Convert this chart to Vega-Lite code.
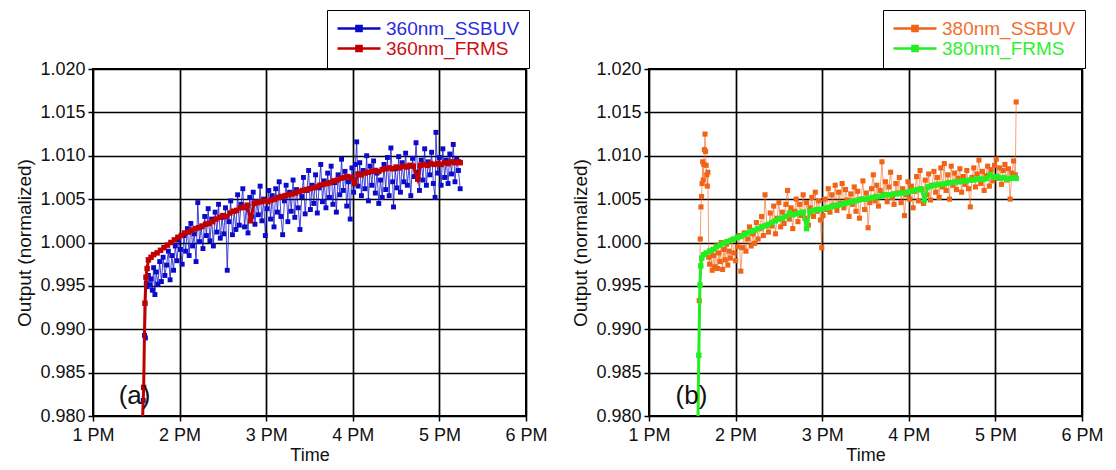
{
"$schema": "https://vega.github.io/schema/vega-lite/v6.json",
"background": "white",
"padding": {"left": 14, "top": 8, "right": 2, "bottom": 2},
"spacing": 21,
"config": {
  "font": "Liberation Sans",
  "view": {"stroke": "#000", "strokeWidth": 2},
  "axis": {"labelFont": "Liberation Sans", "titleFont": "Liberation Sans", "labelFontSize": 18, "titleFontSize": 18, "titleFontWeight": "normal", "labelColor": "#111", "titleColor": "#111", "domain": false, "grid": true, "gridColor": "#000", "gridWidth": 1.7, "gridOpacity": 1, "tickColor": "#000", "tickSize": 5, "tickWidth": 1.5, "labelPadding": 3, "labelFlush": false, "labelOverlap": false},
  "axisX": {"titlePadding": 2, "labelPadding": 5},
  "axisY": {"titlePadding": 5, "titleFontSize": 19}
},
"datasets": {
  "la": [{"t": 13.48, "v": 0.9823, "lab": "(a)"}],
  "lb": [{"t": 13.49, "v": 0.9823, "lab": "(b)"}],
  "a": [
{"t":13.565,"v":0.9790,"s":"360nm_SSBUV"},{"t":13.580,"v":0.9818,"s":"360nm_SSBUV"},{"t":13.595,"v":0.9893,"s":"360nm_SSBUV"},{"t":13.605,"v":0.9890,"s":"360nm_SSBUV"},{"t":13.615,"v":0.9953,"s":"360nm_SSBUV"},{"t":13.625,"v":0.9949,"s":"360nm_SSBUV"},{"t":13.640,"v":0.9962,"s":"360nm_SSBUV"},{"t":13.655,"v":0.9951,"s":"360nm_SSBUV"},{"t":13.670,"v":0.9958,"s":"360nm_SSBUV"},{"t":13.685,"v":0.9945,"s":"360nm_SSBUV"},{"t":13.700,"v":0.9971,"s":"360nm_SSBUV"},{"t":13.715,"v":0.9940,"s":"360nm_SSBUV"},{"t":13.730,"v":0.9966,"s":"360nm_SSBUV"},{"t":13.750,"v":0.9952,"s":"360nm_SSBUV"},{"t":13.770,"v":0.9978,"s":"360nm_SSBUV"},{"t":13.790,"v":0.9955,"s":"360nm_SSBUV"},{"t":13.810,"v":0.9983,"s":"360nm_SSBUV"},{"t":13.830,"v":0.9962,"s":"360nm_SSBUV"},{"t":13.850,"v":0.9974,"s":"360nm_SSBUV"},{"t":13.870,"v":0.9990,"s":"360nm_SSBUV"},{"t":13.890,"v":0.9957,"s":"360nm_SSBUV"},{"t":13.910,"v":0.9985,"s":"360nm_SSBUV"},{"t":13.930,"v":0.9968,"s":"360nm_SSBUV"},{"t":13.950,"v":0.9996,"s":"360nm_SSBUV"},{"t":13.970,"v":0.9979,"s":"360nm_SSBUV"},{"t":13.990,"v":1.0003,"s":"360nm_SSBUV"},{"t":14.010,"v":0.9992,"s":"360nm_SSBUV"},{"t":14.030,"v":0.9975,"s":"360nm_SSBUV"},{"t":14.050,"v":1.0008,"s":"360nm_SSBUV"},{"t":14.070,"v":0.9990,"s":"360nm_SSBUV"},{"t":14.090,"v":1.0016,"s":"360nm_SSBUV"},{"t":14.110,"v":0.9985,"s":"360nm_SSBUV"},{"t":14.130,"v":1.0022,"s":"360nm_SSBUV"},{"t":14.150,"v":0.9996,"s":"360nm_SSBUV"},{"t":14.170,"v":1.0010,"s":"360nm_SSBUV"},{"t":14.190,"v":0.9978,"s":"360nm_SSBUV"},{"t":14.210,"v":1.0046,"s":"360nm_SSBUV"},{"t":14.230,"v":1.0001,"s":"360nm_SSBUV"},{"t":14.250,"v":1.0018,"s":"360nm_SSBUV"},{"t":14.270,"v":0.9993,"s":"360nm_SSBUV"},{"t":14.290,"v":1.0030,"s":"360nm_SSBUV"},{"t":14.310,"v":1.0008,"s":"360nm_SSBUV"},{"t":14.330,"v":1.0039,"s":"360nm_SSBUV"},{"t":14.350,"v":1.0002,"s":"360nm_SSBUV"},{"t":14.370,"v":1.0027,"s":"360nm_SSBUV"},{"t":14.390,"v":0.9996,"s":"360nm_SSBUV"},{"t":14.410,"v":1.0035,"s":"360nm_SSBUV"},{"t":14.430,"v":1.0012,"s":"360nm_SSBUV"},{"t":14.450,"v":1.0044,"s":"360nm_SSBUV"},{"t":14.470,"v":1.0005,"s":"360nm_SSBUV"},{"t":14.490,"v":1.0029,"s":"360nm_SSBUV"},{"t":14.510,"v":1.0010,"s":"360nm_SSBUV"},{"t":14.530,"v":1.0040,"s":"360nm_SSBUV"},{"t":14.550,"v":0.9968,"s":"360nm_SSBUV"},{"t":14.570,"v":1.0024,"s":"360nm_SSBUV"},{"t":14.590,"v":1.0048,"s":"360nm_SSBUV"},{"t":14.610,"v":1.0009,"s":"360nm_SSBUV"},{"t":14.630,"v":1.0036,"s":"360nm_SSBUV"},{"t":14.650,"v":1.0015,"s":"360nm_SSBUV"},{"t":14.670,"v":1.0055,"s":"360nm_SSBUV"},{"t":14.690,"v":1.0020,"s":"360nm_SSBUV"},{"t":14.710,"v":1.0044,"s":"360nm_SSBUV"},{"t":14.730,"v":1.0062,"s":"360nm_SSBUV"},{"t":14.750,"v":1.0018,"s":"360nm_SSBUV"},{"t":14.770,"v":1.0040,"s":"360nm_SSBUV"},{"t":14.790,"v":1.0011,"s":"360nm_SSBUV"},{"t":14.810,"v":1.0052,"s":"360nm_SSBUV"},{"t":14.830,"v":1.0030,"s":"360nm_SSBUV"},{"t":14.850,"v":1.0058,"s":"360nm_SSBUV"},{"t":14.870,"v":1.0021,"s":"360nm_SSBUV"},{"t":14.890,"v":1.0047,"s":"360nm_SSBUV"},{"t":14.910,"v":1.0032,"s":"360nm_SSBUV"},{"t":14.930,"v":1.0065,"s":"360nm_SSBUV"},{"t":14.950,"v":1.0025,"s":"360nm_SSBUV"},{"t":14.970,"v":1.0050,"s":"360nm_SSBUV"},{"t":14.990,"v":1.0008,"s":"360nm_SSBUV"},{"t":15.010,"v":1.0039,"s":"360nm_SSBUV"},{"t":15.030,"v":1.0060,"s":"360nm_SSBUV"},{"t":15.050,"v":1.0027,"s":"360nm_SSBUV"},{"t":15.070,"v":1.0054,"s":"360nm_SSBUV"},{"t":15.090,"v":1.0018,"s":"360nm_SSBUV"},{"t":15.110,"v":1.0062,"s":"360nm_SSBUV"},{"t":15.130,"v":1.0035,"s":"360nm_SSBUV"},{"t":15.150,"v":1.0070,"s":"360nm_SSBUV"},{"t":15.170,"v":1.0030,"s":"360nm_SSBUV"},{"t":15.190,"v":1.0009,"s":"360nm_SSBUV"},{"t":15.210,"v":1.0048,"s":"360nm_SSBUV"},{"t":15.230,"v":1.0066,"s":"360nm_SSBUV"},{"t":15.250,"v":1.0024,"s":"360nm_SSBUV"},{"t":15.270,"v":1.0058,"s":"360nm_SSBUV"},{"t":15.290,"v":1.0036,"s":"360nm_SSBUV"},{"t":15.310,"v":1.0072,"s":"360nm_SSBUV"},{"t":15.330,"v":1.0029,"s":"360nm_SSBUV"},{"t":15.350,"v":1.0061,"s":"360nm_SSBUV"},{"t":15.370,"v":1.0040,"s":"360nm_SSBUV"},{"t":15.390,"v":1.0015,"s":"360nm_SSBUV"},{"t":15.410,"v":1.0053,"s":"360nm_SSBUV"},{"t":15.430,"v":1.0075,"s":"360nm_SSBUV"},{"t":15.450,"v":1.0033,"s":"360nm_SSBUV"},{"t":15.470,"v":1.0060,"s":"360nm_SSBUV"},{"t":15.490,"v":1.0083,"s":"360nm_SSBUV"},{"t":15.510,"v":1.0038,"s":"360nm_SSBUV"},{"t":15.530,"v":1.0066,"s":"360nm_SSBUV"},{"t":15.550,"v":1.0045,"s":"360nm_SSBUV"},{"t":15.570,"v":1.0078,"s":"360nm_SSBUV"},{"t":15.590,"v":1.0034,"s":"360nm_SSBUV"},{"t":15.610,"v":1.0063,"s":"360nm_SSBUV"},{"t":15.630,"v":1.0090,"s":"360nm_SSBUV"},{"t":15.650,"v":1.0047,"s":"360nm_SSBUV"},{"t":15.670,"v":1.0071,"s":"360nm_SSBUV"},{"t":15.690,"v":1.0040,"s":"360nm_SSBUV"},{"t":15.710,"v":1.0080,"s":"360nm_SSBUV"},{"t":15.730,"v":1.0052,"s":"360nm_SSBUV"},{"t":15.750,"v":1.0088,"s":"360nm_SSBUV"},{"t":15.770,"v":1.0044,"s":"360nm_SSBUV"},{"t":15.790,"v":1.0069,"s":"360nm_SSBUV"},{"t":15.810,"v":1.0035,"s":"360nm_SSBUV"},{"t":15.830,"v":1.0078,"s":"360nm_SSBUV"},{"t":15.850,"v":1.0055,"s":"360nm_SSBUV"},{"t":15.870,"v":1.0096,"s":"360nm_SSBUV"},{"t":15.890,"v":1.0060,"s":"360nm_SSBUV"},{"t":15.910,"v":1.0082,"s":"360nm_SSBUV"},{"t":15.930,"v":1.0042,"s":"360nm_SSBUV"},{"t":15.950,"v":1.0070,"s":"360nm_SSBUV"},{"t":15.970,"v":1.0027,"s":"360nm_SSBUV"},{"t":15.990,"v":1.0086,"s":"360nm_SSBUV"},{"t":16.010,"v":1.0058,"s":"360nm_SSBUV"},{"t":16.030,"v":1.0090,"s":"360nm_SSBUV"},{"t":16.045,"v":1.0116,"s":"360nm_SSBUV"},{"t":16.060,"v":1.0065,"s":"360nm_SSBUV"},{"t":16.080,"v":1.0092,"s":"360nm_SSBUV"},{"t":16.100,"v":1.0054,"s":"360nm_SSBUV"},{"t":16.120,"v":1.0083,"s":"360nm_SSBUV"},{"t":16.140,"v":1.0062,"s":"360nm_SSBUV"},{"t":16.160,"v":1.0100,"s":"360nm_SSBUV"},{"t":16.180,"v":1.0048,"s":"360nm_SSBUV"},{"t":16.200,"v":1.0088,"s":"360nm_SSBUV"},{"t":16.220,"v":1.0066,"s":"360nm_SSBUV"},{"t":16.240,"v":1.0094,"s":"360nm_SSBUV"},{"t":16.260,"v":1.0057,"s":"360nm_SSBUV"},{"t":16.280,"v":1.0080,"s":"360nm_SSBUV"},{"t":16.300,"v":1.0045,"s":"360nm_SSBUV"},{"t":16.320,"v":1.0072,"s":"360nm_SSBUV"},{"t":16.340,"v":1.0052,"s":"360nm_SSBUV"},{"t":16.360,"v":1.0090,"s":"360nm_SSBUV"},{"t":16.380,"v":1.0061,"s":"360nm_SSBUV"},{"t":16.400,"v":1.0098,"s":"360nm_SSBUV"},{"t":16.420,"v":1.0054,"s":"360nm_SSBUV"},{"t":16.440,"v":1.0109,"s":"360nm_SSBUV"},{"t":16.460,"v":1.0070,"s":"360nm_SSBUV"},{"t":16.470,"v":1.0041,"s":"360nm_SSBUV"},{"t":16.490,"v":1.0085,"s":"360nm_SSBUV"},{"t":16.510,"v":1.0063,"s":"360nm_SSBUV"},{"t":16.530,"v":1.0099,"s":"360nm_SSBUV"},{"t":16.550,"v":1.0058,"s":"360nm_SSBUV"},{"t":16.570,"v":1.0092,"s":"360nm_SSBUV"},{"t":16.590,"v":1.0070,"s":"360nm_SSBUV"},{"t":16.610,"v":1.0103,"s":"360nm_SSBUV"},{"t":16.630,"v":1.0066,"s":"360nm_SSBUV"},{"t":16.650,"v":1.0088,"s":"360nm_SSBUV"},{"t":16.670,"v":1.0054,"s":"360nm_SSBUV"},{"t":16.690,"v":1.0097,"s":"360nm_SSBUV"},{"t":16.710,"v":1.0076,"s":"360nm_SSBUV"},{"t":16.730,"v":1.0115,"s":"360nm_SSBUV"},{"t":16.750,"v":1.0081,"s":"360nm_SSBUV"},{"t":16.770,"v":1.0060,"s":"360nm_SSBUV"},{"t":16.790,"v":1.0095,"s":"360nm_SSBUV"},{"t":16.810,"v":1.0072,"s":"360nm_SSBUV"},{"t":16.830,"v":1.0108,"s":"360nm_SSBUV"},{"t":16.850,"v":1.0066,"s":"360nm_SSBUV"},{"t":16.870,"v":1.0093,"s":"360nm_SSBUV"},{"t":16.890,"v":1.0078,"s":"360nm_SSBUV"},{"t":16.910,"v":1.0104,"s":"360nm_SSBUV"},{"t":16.930,"v":1.0068,"s":"360nm_SSBUV"},{"t":16.950,"v":1.0052,"s":"360nm_SSBUV"},{"t":16.960,"v":1.0127,"s":"360nm_SSBUV"},{"t":16.980,"v":1.0080,"s":"360nm_SSBUV"},{"t":17.000,"v":1.0098,"s":"360nm_SSBUV"},{"t":17.020,"v":1.0066,"s":"360nm_SSBUV"},{"t":17.040,"v":1.0108,"s":"360nm_SSBUV"},{"t":17.060,"v":1.0075,"s":"360nm_SSBUV"},{"t":17.080,"v":1.0095,"s":"360nm_SSBUV"},{"t":17.100,"v":1.0068,"s":"360nm_SSBUV"},{"t":17.120,"v":1.0102,"s":"360nm_SSBUV"},{"t":17.140,"v":1.0079,"s":"360nm_SSBUV"},{"t":17.160,"v":1.0113,"s":"360nm_SSBUV"},{"t":17.180,"v":1.0070,"s":"360nm_SSBUV"},{"t":17.200,"v":1.0096,"s":"360nm_SSBUV"},{"t":17.220,"v":1.0083,"s":"360nm_SSBUV"},{"t":17.240,"v":1.0062,"s":"360nm_SSBUV"},
{"t":13.570,"v":0.9790,"s":"360nm_FRMS"},{"t":13.585,"v":0.9833,"s":"360nm_FRMS"},{"t":13.600,"v":0.9930,"s":"360nm_FRMS"},{"t":13.612,"v":0.9960,"s":"360nm_FRMS"},{"t":13.625,"v":0.9970,"s":"360nm_FRMS"},{"t":13.640,"v":0.9980,"s":"360nm_FRMS"},{"t":13.670,"v":0.9983,"s":"360nm_FRMS"},{"t":13.700,"v":0.9986,"s":"360nm_FRMS"},{"t":13.740,"v":0.9988,"s":"360nm_FRMS"},{"t":13.780,"v":0.9991,"s":"360nm_FRMS"},{"t":13.820,"v":0.9994,"s":"360nm_FRMS"},{"t":13.860,"v":0.9997,"s":"360nm_FRMS"},{"t":13.900,"v":1.0000,"s":"360nm_FRMS"},{"t":13.940,"v":1.0003,"s":"360nm_FRMS"},{"t":13.980,"v":1.0006,"s":"360nm_FRMS"},{"t":14.020,"v":1.0008,"s":"360nm_FRMS"},{"t":14.060,"v":1.0011,"s":"360nm_FRMS"},{"t":14.100,"v":1.0012,"s":"360nm_FRMS"},{"t":14.140,"v":1.0014,"s":"360nm_FRMS"},{"t":14.180,"v":1.0016,"s":"360nm_FRMS"},{"t":14.220,"v":1.0017,"s":"360nm_FRMS"},{"t":14.260,"v":1.0019,"s":"360nm_FRMS"},{"t":14.300,"v":1.0021,"s":"360nm_FRMS"},{"t":14.340,"v":1.0022,"s":"360nm_FRMS"},{"t":14.380,"v":1.0024,"s":"360nm_FRMS"},{"t":14.420,"v":1.0027,"s":"360nm_FRMS"},{"t":14.460,"v":1.0029,"s":"360nm_FRMS"},{"t":14.500,"v":1.0031,"s":"360nm_FRMS"},{"t":14.540,"v":1.0030,"s":"360nm_FRMS"},{"t":14.580,"v":1.0034,"s":"360nm_FRMS"},{"t":14.620,"v":1.0036,"s":"360nm_FRMS"},{"t":14.660,"v":1.0037,"s":"360nm_FRMS"},{"t":14.700,"v":1.0040,"s":"360nm_FRMS"},{"t":14.740,"v":1.0041,"s":"360nm_FRMS"},{"t":14.780,"v":1.0043,"s":"360nm_FRMS"},{"t":14.820,"v":1.0025,"s":"360nm_FRMS"},{"t":14.860,"v":1.0045,"s":"360nm_FRMS"},{"t":14.900,"v":1.0046,"s":"360nm_FRMS"},{"t":14.940,"v":1.0047,"s":"360nm_FRMS"},{"t":14.980,"v":1.0048,"s":"360nm_FRMS"},{"t":15.020,"v":1.0047,"s":"360nm_FRMS"},{"t":15.060,"v":1.0049,"s":"360nm_FRMS"},{"t":15.100,"v":1.0050,"s":"360nm_FRMS"},{"t":15.140,"v":1.0052,"s":"360nm_FRMS"},{"t":15.180,"v":1.0053,"s":"360nm_FRMS"},{"t":15.220,"v":1.0054,"s":"360nm_FRMS"},{"t":15.260,"v":1.0055,"s":"360nm_FRMS"},{"t":15.300,"v":1.0056,"s":"360nm_FRMS"},{"t":15.340,"v":1.0057,"s":"360nm_FRMS"},{"t":15.380,"v":1.0059,"s":"360nm_FRMS"},{"t":15.420,"v":1.0060,"s":"360nm_FRMS"},{"t":15.460,"v":1.0061,"s":"360nm_FRMS"},{"t":15.500,"v":1.0062,"s":"360nm_FRMS"},{"t":15.540,"v":1.0063,"s":"360nm_FRMS"},{"t":15.580,"v":1.0064,"s":"360nm_FRMS"},{"t":15.620,"v":1.0066,"s":"360nm_FRMS"},{"t":15.660,"v":1.0067,"s":"360nm_FRMS"},{"t":15.700,"v":1.0068,"s":"360nm_FRMS"},{"t":15.740,"v":1.0069,"s":"360nm_FRMS"},{"t":15.780,"v":1.0071,"s":"360nm_FRMS"},{"t":15.820,"v":1.0072,"s":"360nm_FRMS"},{"t":15.860,"v":1.0074,"s":"360nm_FRMS"},{"t":15.900,"v":1.0075,"s":"360nm_FRMS"},{"t":15.940,"v":1.0076,"s":"360nm_FRMS"},{"t":15.980,"v":1.0075,"s":"360nm_FRMS"},{"t":16.020,"v":1.0068,"s":"360nm_FRMS"},{"t":16.060,"v":1.0079,"s":"360nm_FRMS"},{"t":16.100,"v":1.0078,"s":"360nm_FRMS"},{"t":16.140,"v":1.0080,"s":"360nm_FRMS"},{"t":16.180,"v":1.0081,"s":"360nm_FRMS"},{"t":16.220,"v":1.0082,"s":"360nm_FRMS"},{"t":16.260,"v":1.0083,"s":"360nm_FRMS"},{"t":16.300,"v":1.0082,"s":"360nm_FRMS"},{"t":16.340,"v":1.0084,"s":"360nm_FRMS"},{"t":16.380,"v":1.0085,"s":"360nm_FRMS"},{"t":16.420,"v":1.0086,"s":"360nm_FRMS"},{"t":16.460,"v":1.0085,"s":"360nm_FRMS"},{"t":16.500,"v":1.0087,"s":"360nm_FRMS"},{"t":16.540,"v":1.0086,"s":"360nm_FRMS"},{"t":16.580,"v":1.0088,"s":"360nm_FRMS"},{"t":16.620,"v":1.0087,"s":"360nm_FRMS"},{"t":16.660,"v":1.0089,"s":"360nm_FRMS"},{"t":16.700,"v":1.0088,"s":"360nm_FRMS"},{"t":16.750,"v":1.0073,"s":"360nm_FRMS"},{"t":16.780,"v":1.0089,"s":"360nm_FRMS"},{"t":16.820,"v":1.0090,"s":"360nm_FRMS"},{"t":16.860,"v":1.0089,"s":"360nm_FRMS"},{"t":16.900,"v":1.0091,"s":"360nm_FRMS"},{"t":16.940,"v":1.0090,"s":"360nm_FRMS"},{"t":16.980,"v":1.0091,"s":"360nm_FRMS"},{"t":17.020,"v":1.0090,"s":"360nm_FRMS"},{"t":17.060,"v":1.0092,"s":"360nm_FRMS"},{"t":17.100,"v":1.0091,"s":"360nm_FRMS"},{"t":17.140,"v":1.0093,"s":"360nm_FRMS"},{"t":17.180,"v":1.0092,"s":"360nm_FRMS"},{"t":17.220,"v":1.0093,"s":"360nm_FRMS"},{"t":17.240,"v":1.0092,"s":"360nm_FRMS"}
  ],
  "b": [
{"t":13.560,"v":0.9790,"s":"380nm_SSBUV"},{"t":13.580,"v":0.9933,"s":"380nm_SSBUV"},{"t":13.592,"v":1.0004,"s":"380nm_SSBUV"},{"t":13.600,"v":1.0041,"s":"380nm_SSBUV"},{"t":13.607,"v":1.0053,"s":"380nm_SSBUV"},{"t":13.613,"v":1.0068,"s":"380nm_SSBUV"},{"t":13.620,"v":1.0093,"s":"380nm_SSBUV"},{"t":13.627,"v":1.0072,"s":"380nm_SSBUV"},{"t":13.633,"v":1.0090,"s":"380nm_SSBUV"},{"t":13.640,"v":1.0107,"s":"380nm_SSBUV"},{"t":13.647,"v":1.0125,"s":"380nm_SSBUV"},{"t":13.653,"v":1.0105,"s":"380nm_SSBUV"},{"t":13.660,"v":1.0089,"s":"380nm_SSBUV"},{"t":13.667,"v":1.0078,"s":"380nm_SSBUV"},{"t":13.673,"v":1.0065,"s":"380nm_SSBUV"},{"t":13.680,"v":1.0081,"s":"380nm_SSBUV"},{"t":13.690,"v":0.9983,"s":"380nm_SSBUV"},{"t":13.700,"v":0.9975,"s":"380nm_SSBUV"},{"t":13.715,"v":0.9990,"s":"380nm_SSBUV"},{"t":13.730,"v":0.9968,"s":"380nm_SSBUV"},{"t":13.745,"v":0.9985,"s":"380nm_SSBUV"},{"t":13.760,"v":0.9972,"s":"380nm_SSBUV"},{"t":13.775,"v":0.9996,"s":"380nm_SSBUV"},{"t":13.790,"v":0.9970,"s":"380nm_SSBUV"},{"t":13.805,"v":0.9988,"s":"380nm_SSBUV"},{"t":13.820,"v":0.9978,"s":"380nm_SSBUV"},{"t":13.835,"v":1.0000,"s":"380nm_SSBUV"},{"t":13.850,"v":0.9969,"s":"380nm_SSBUV"},{"t":13.865,"v":0.9992,"s":"380nm_SSBUV"},{"t":13.880,"v":0.9980,"s":"380nm_SSBUV"},{"t":13.895,"v":0.9998,"s":"380nm_SSBUV"},{"t":13.910,"v":0.9974,"s":"380nm_SSBUV"},{"t":13.925,"v":0.9990,"s":"380nm_SSBUV"},{"t":13.940,"v":0.9982,"s":"380nm_SSBUV"},{"t":13.960,"v":1.0003,"s":"380nm_SSBUV"},{"t":13.980,"v":0.9988,"s":"380nm_SSBUV"},{"t":14.000,"v":0.9979,"s":"380nm_SSBUV"},{"t":14.020,"v":0.9995,"s":"380nm_SSBUV"},{"t":14.040,"v":1.0008,"s":"380nm_SSBUV"},{"t":14.060,"v":0.9967,"s":"380nm_SSBUV"},{"t":14.080,"v":0.9994,"s":"380nm_SSBUV"},{"t":14.100,"v":1.0011,"s":"380nm_SSBUV"},{"t":14.120,"v":0.9990,"s":"380nm_SSBUV"},{"t":14.140,"v":1.0004,"s":"380nm_SSBUV"},{"t":14.160,"v":1.0018,"s":"380nm_SSBUV"},{"t":14.180,"v":0.9996,"s":"380nm_SSBUV"},{"t":14.200,"v":1.0010,"s":"380nm_SSBUV"},{"t":14.220,"v":0.9999,"s":"380nm_SSBUV"},{"t":14.240,"v":1.0023,"s":"380nm_SSBUV"},{"t":14.260,"v":1.0004,"s":"380nm_SSBUV"},{"t":14.280,"v":1.0016,"s":"380nm_SSBUV"},{"t":14.300,"v":1.0030,"s":"380nm_SSBUV"},{"t":14.320,"v":1.0008,"s":"380nm_SSBUV"},{"t":14.340,"v":1.0055,"s":"380nm_SSBUV"},{"t":14.360,"v":1.0020,"s":"380nm_SSBUV"},{"t":14.380,"v":1.0012,"s":"380nm_SSBUV"},{"t":14.400,"v":1.0034,"s":"380nm_SSBUV"},{"t":14.420,"v":1.0019,"s":"380nm_SSBUV"},{"t":14.440,"v":1.0042,"s":"380nm_SSBUV"},{"t":14.460,"v":1.0010,"s":"380nm_SSBUV"},{"t":14.480,"v":1.0028,"s":"380nm_SSBUV"},{"t":14.500,"v":1.0046,"s":"380nm_SSBUV"},{"t":14.520,"v":1.0018,"s":"380nm_SSBUV"},{"t":14.540,"v":1.0035,"s":"380nm_SSBUV"},{"t":14.560,"v":1.0022,"s":"380nm_SSBUV"},{"t":14.580,"v":1.0044,"s":"380nm_SSBUV"},{"t":14.600,"v":1.0060,"s":"380nm_SSBUV"},{"t":14.620,"v":1.0027,"s":"380nm_SSBUV"},{"t":14.640,"v":1.0040,"s":"380nm_SSBUV"},{"t":14.660,"v":1.0016,"s":"380nm_SSBUV"},{"t":14.680,"v":1.0036,"s":"380nm_SSBUV"},{"t":14.700,"v":1.0050,"s":"380nm_SSBUV"},{"t":14.720,"v":1.0024,"s":"380nm_SSBUV"},{"t":14.740,"v":1.0044,"s":"380nm_SSBUV"},{"t":14.760,"v":1.0031,"s":"380nm_SSBUV"},{"t":14.780,"v":1.0055,"s":"380nm_SSBUV"},{"t":14.800,"v":1.0028,"s":"380nm_SSBUV"},{"t":14.820,"v":1.0046,"s":"380nm_SSBUV"},{"t":14.840,"v":1.0020,"s":"380nm_SSBUV"},{"t":14.860,"v":1.0040,"s":"380nm_SSBUV"},{"t":14.880,"v":1.0052,"s":"380nm_SSBUV"},{"t":14.900,"v":1.0030,"s":"380nm_SSBUV"},{"t":14.920,"v":1.0058,"s":"380nm_SSBUV"},{"t":14.940,"v":1.0036,"s":"380nm_SSBUV"},{"t":14.960,"v":1.0048,"s":"380nm_SSBUV"},{"t":14.980,"v":1.0026,"s":"380nm_SSBUV"},{"t":14.995,"v":0.9994,"s":"380nm_SSBUV"},{"t":15.010,"v":1.0031,"s":"380nm_SSBUV"},{"t":15.030,"v":1.0050,"s":"380nm_SSBUV"},{"t":15.050,"v":1.0038,"s":"380nm_SSBUV"},{"t":15.070,"v":1.0062,"s":"380nm_SSBUV"},{"t":15.090,"v":1.0035,"s":"380nm_SSBUV"},{"t":15.110,"v":1.0055,"s":"380nm_SSBUV"},{"t":15.130,"v":1.0043,"s":"380nm_SSBUV"},{"t":15.150,"v":1.0066,"s":"380nm_SSBUV"},{"t":15.170,"v":1.0037,"s":"380nm_SSBUV"},{"t":15.190,"v":1.0058,"s":"380nm_SSBUV"},{"t":15.210,"v":1.0045,"s":"380nm_SSBUV"},{"t":15.230,"v":1.0068,"s":"380nm_SSBUV"},{"t":15.250,"v":1.0040,"s":"380nm_SSBUV"},{"t":15.270,"v":1.0061,"s":"380nm_SSBUV"},{"t":15.290,"v":1.0049,"s":"380nm_SSBUV"},{"t":15.310,"v":1.0030,"s":"380nm_SSBUV"},{"t":15.330,"v":1.0056,"s":"380nm_SSBUV"},{"t":15.350,"v":1.0044,"s":"380nm_SSBUV"},{"t":15.370,"v":1.0064,"s":"380nm_SSBUV"},{"t":15.390,"v":1.0036,"s":"380nm_SSBUV"},{"t":15.410,"v":1.0059,"s":"380nm_SSBUV"},{"t":15.430,"v":1.0028,"s":"380nm_SSBUV"},{"t":15.450,"v":1.0050,"s":"380nm_SSBUV"},{"t":15.470,"v":1.0071,"s":"380nm_SSBUV"},{"t":15.490,"v":1.0038,"s":"380nm_SSBUV"},{"t":15.510,"v":1.0057,"s":"380nm_SSBUV"},{"t":15.530,"v":1.0017,"s":"380nm_SSBUV"},{"t":15.550,"v":1.0046,"s":"380nm_SSBUV"},{"t":15.570,"v":1.0062,"s":"380nm_SSBUV"},{"t":15.590,"v":1.0078,"s":"380nm_SSBUV"},{"t":15.610,"v":1.0048,"s":"380nm_SSBUV"},{"t":15.630,"v":1.0066,"s":"380nm_SSBUV"},{"t":15.650,"v":1.0042,"s":"380nm_SSBUV"},{"t":15.670,"v":1.0060,"s":"380nm_SSBUV"},{"t":15.690,"v":1.0093,"s":"380nm_SSBUV"},{"t":15.710,"v":1.0055,"s":"380nm_SSBUV"},{"t":15.730,"v":1.0070,"s":"380nm_SSBUV"},{"t":15.750,"v":1.0047,"s":"380nm_SSBUV"},{"t":15.770,"v":1.0064,"s":"380nm_SSBUV"},{"t":15.790,"v":1.0081,"s":"380nm_SSBUV"},{"t":15.810,"v":1.0052,"s":"380nm_SSBUV"},{"t":15.830,"v":1.0044,"s":"380nm_SSBUV"},{"t":15.850,"v":1.0068,"s":"380nm_SSBUV"},{"t":15.870,"v":1.0057,"s":"380nm_SSBUV"},{"t":15.890,"v":1.0075,"s":"380nm_SSBUV"},{"t":15.910,"v":1.0046,"s":"380nm_SSBUV"},{"t":15.930,"v":1.0062,"s":"380nm_SSBUV"},{"t":15.950,"v":1.0031,"s":"380nm_SSBUV"},{"t":15.970,"v":1.0055,"s":"380nm_SSBUV"},{"t":15.990,"v":1.0070,"s":"380nm_SSBUV"},{"t":16.010,"v":1.0050,"s":"380nm_SSBUV"},{"t":16.030,"v":1.0065,"s":"380nm_SSBUV"},{"t":16.050,"v":1.0040,"s":"380nm_SSBUV"},{"t":16.070,"v":1.0059,"s":"380nm_SSBUV"},{"t":16.090,"v":1.0076,"s":"380nm_SSBUV"},{"t":16.110,"v":1.0048,"s":"380nm_SSBUV"},{"t":16.130,"v":1.0083,"s":"380nm_SSBUV"},{"t":16.150,"v":1.0061,"s":"380nm_SSBUV"},{"t":16.170,"v":1.0045,"s":"380nm_SSBUV"},{"t":16.190,"v":1.0072,"s":"380nm_SSBUV"},{"t":16.210,"v":1.0055,"s":"380nm_SSBUV"},{"t":16.230,"v":1.0079,"s":"380nm_SSBUV"},{"t":16.250,"v":1.0049,"s":"380nm_SSBUV"},{"t":16.270,"v":1.0066,"s":"380nm_SSBUV"},{"t":16.290,"v":1.0082,"s":"380nm_SSBUV"},{"t":16.310,"v":1.0058,"s":"380nm_SSBUV"},{"t":16.330,"v":1.0075,"s":"380nm_SSBUV"},{"t":16.350,"v":1.0052,"s":"380nm_SSBUV"},{"t":16.370,"v":1.0086,"s":"380nm_SSBUV"},{"t":16.390,"v":1.0064,"s":"380nm_SSBUV"},{"t":16.410,"v":1.0091,"s":"380nm_SSBUV"},{"t":16.430,"v":1.0060,"s":"380nm_SSBUV"},{"t":16.450,"v":1.0078,"s":"380nm_SSBUV"},{"t":16.470,"v":1.0050,"s":"380nm_SSBUV"},{"t":16.490,"v":1.0088,"s":"380nm_SSBUV"},{"t":16.510,"v":1.0066,"s":"380nm_SSBUV"},{"t":16.530,"v":1.0080,"s":"380nm_SSBUV"},{"t":16.550,"v":1.0061,"s":"380nm_SSBUV"},{"t":16.570,"v":1.0074,"s":"380nm_SSBUV"},{"t":16.590,"v":1.0085,"s":"380nm_SSBUV"},{"t":16.610,"v":1.0058,"s":"380nm_SSBUV"},{"t":16.630,"v":1.0076,"s":"380nm_SSBUV"},{"t":16.650,"v":1.0067,"s":"380nm_SSBUV"},{"t":16.670,"v":1.0083,"s":"380nm_SSBUV"},{"t":16.690,"v":1.0062,"s":"380nm_SSBUV"},{"t":16.710,"v":1.0041,"s":"380nm_SSBUV"},{"t":16.730,"v":1.0075,"s":"380nm_SSBUV"},{"t":16.750,"v":1.0086,"s":"380nm_SSBUV"},{"t":16.770,"v":1.0064,"s":"380nm_SSBUV"},{"t":16.790,"v":1.0079,"s":"380nm_SSBUV"},{"t":16.810,"v":1.0095,"s":"380nm_SSBUV"},{"t":16.830,"v":1.0068,"s":"380nm_SSBUV"},{"t":16.850,"v":1.0082,"s":"380nm_SSBUV"},{"t":16.870,"v":1.0060,"s":"380nm_SSBUV"},{"t":16.890,"v":1.0077,"s":"380nm_SSBUV"},{"t":16.910,"v":1.0088,"s":"380nm_SSBUV"},{"t":16.930,"v":1.0065,"s":"380nm_SSBUV"},{"t":16.950,"v":1.0084,"s":"380nm_SSBUV"},{"t":16.970,"v":1.0071,"s":"380nm_SSBUV"},{"t":16.990,"v":1.0089,"s":"380nm_SSBUV"},{"t":17.010,"v":1.0096,"s":"380nm_SSBUV"},{"t":17.030,"v":1.0074,"s":"380nm_SSBUV"},{"t":17.050,"v":1.0086,"s":"380nm_SSBUV"},{"t":17.070,"v":1.0067,"s":"380nm_SSBUV"},{"t":17.090,"v":1.0083,"s":"380nm_SSBUV"},{"t":17.110,"v":1.0090,"s":"380nm_SSBUV"},{"t":17.130,"v":1.0072,"s":"380nm_SSBUV"},{"t":17.150,"v":1.0085,"s":"380nm_SSBUV"},{"t":17.170,"v":1.0050,"s":"380nm_SSBUV"},{"t":17.190,"v":1.0080,"s":"380nm_SSBUV"},{"t":17.210,"v":1.0094,"s":"380nm_SSBUV"},{"t":17.230,"v":1.0078,"s":"380nm_SSBUV"},{"t":17.240,"v":1.0162,"s":"380nm_SSBUV"},
{"t":13.565,"v":0.9790,"s":"380nm_FRMS"},{"t":13.575,"v":0.9870,"s":"380nm_FRMS"},{"t":13.588,"v":0.9951,"s":"380nm_FRMS"},{"t":13.598,"v":0.9973,"s":"380nm_FRMS"},{"t":13.610,"v":0.9982,"s":"380nm_FRMS"},{"t":13.630,"v":0.9986,"s":"380nm_FRMS"},{"t":13.660,"v":0.9988,"s":"380nm_FRMS"},{"t":13.700,"v":0.9990,"s":"380nm_FRMS"},{"t":13.740,"v":0.9992,"s":"380nm_FRMS"},{"t":13.780,"v":0.9995,"s":"380nm_FRMS"},{"t":13.820,"v":0.9997,"s":"380nm_FRMS"},{"t":13.860,"v":0.9999,"s":"380nm_FRMS"},{"t":13.900,"v":1.0001,"s":"380nm_FRMS"},{"t":13.940,"v":1.0002,"s":"380nm_FRMS"},{"t":13.980,"v":1.0004,"s":"380nm_FRMS"},{"t":14.020,"v":1.0006,"s":"380nm_FRMS"},{"t":14.060,"v":1.0007,"s":"380nm_FRMS"},{"t":14.100,"v":1.0009,"s":"380nm_FRMS"},{"t":14.140,"v":1.0011,"s":"380nm_FRMS"},{"t":14.180,"v":1.0013,"s":"380nm_FRMS"},{"t":14.220,"v":1.0014,"s":"380nm_FRMS"},{"t":14.260,"v":1.0016,"s":"380nm_FRMS"},{"t":14.300,"v":1.0018,"s":"380nm_FRMS"},{"t":14.340,"v":1.0019,"s":"380nm_FRMS"},{"t":14.380,"v":1.0021,"s":"380nm_FRMS"},{"t":14.420,"v":1.0023,"s":"380nm_FRMS"},{"t":14.460,"v":1.0025,"s":"380nm_FRMS"},{"t":14.500,"v":1.0027,"s":"380nm_FRMS"},{"t":14.540,"v":1.0028,"s":"380nm_FRMS"},{"t":14.580,"v":1.0030,"s":"380nm_FRMS"},{"t":14.620,"v":1.0034,"s":"380nm_FRMS"},{"t":14.660,"v":1.0032,"s":"380nm_FRMS"},{"t":14.700,"v":1.0033,"s":"380nm_FRMS"},{"t":14.740,"v":1.0034,"s":"380nm_FRMS"},{"t":14.780,"v":1.0035,"s":"380nm_FRMS"},{"t":14.820,"v":1.0016,"s":"380nm_FRMS"},{"t":14.860,"v":1.0036,"s":"380nm_FRMS"},{"t":14.900,"v":1.0037,"s":"380nm_FRMS"},{"t":14.940,"v":1.0038,"s":"380nm_FRMS"},{"t":14.980,"v":1.0038,"s":"380nm_FRMS"},{"t":15.020,"v":1.0039,"s":"380nm_FRMS"},{"t":15.060,"v":1.0040,"s":"380nm_FRMS"},{"t":15.100,"v":1.0041,"s":"380nm_FRMS"},{"t":15.140,"v":1.0042,"s":"380nm_FRMS"},{"t":15.180,"v":1.0043,"s":"380nm_FRMS"},{"t":15.220,"v":1.0044,"s":"380nm_FRMS"},{"t":15.260,"v":1.0045,"s":"380nm_FRMS"},{"t":15.300,"v":1.0046,"s":"380nm_FRMS"},{"t":15.340,"v":1.0047,"s":"380nm_FRMS"},{"t":15.380,"v":1.0048,"s":"380nm_FRMS"},{"t":15.420,"v":1.0049,"s":"380nm_FRMS"},{"t":15.460,"v":1.0050,"s":"380nm_FRMS"},{"t":15.500,"v":1.0050,"s":"380nm_FRMS"},{"t":15.540,"v":1.0051,"s":"380nm_FRMS"},{"t":15.580,"v":1.0052,"s":"380nm_FRMS"},{"t":15.620,"v":1.0053,"s":"380nm_FRMS"},{"t":15.660,"v":1.0053,"s":"380nm_FRMS"},{"t":15.700,"v":1.0054,"s":"380nm_FRMS"},{"t":15.740,"v":1.0055,"s":"380nm_FRMS"},{"t":15.780,"v":1.0055,"s":"380nm_FRMS"},{"t":15.820,"v":1.0056,"s":"380nm_FRMS"},{"t":15.860,"v":1.0056,"s":"380nm_FRMS"},{"t":15.900,"v":1.0057,"s":"380nm_FRMS"},{"t":15.940,"v":1.0057,"s":"380nm_FRMS"},{"t":15.980,"v":1.0058,"s":"380nm_FRMS"},{"t":16.020,"v":1.0059,"s":"380nm_FRMS"},{"t":16.060,"v":1.0060,"s":"380nm_FRMS"},{"t":16.100,"v":1.0061,"s":"380nm_FRMS"},{"t":16.140,"v":1.0062,"s":"380nm_FRMS"},{"t":16.180,"v":1.0049,"s":"380nm_FRMS"},{"t":16.220,"v":1.0064,"s":"380nm_FRMS"},{"t":16.260,"v":1.0065,"s":"380nm_FRMS"},{"t":16.300,"v":1.0066,"s":"380nm_FRMS"},{"t":16.340,"v":1.0067,"s":"380nm_FRMS"},{"t":16.380,"v":1.0067,"s":"380nm_FRMS"},{"t":16.420,"v":1.0068,"s":"380nm_FRMS"},{"t":16.460,"v":1.0069,"s":"380nm_FRMS"},{"t":16.500,"v":1.0069,"s":"380nm_FRMS"},{"t":16.540,"v":1.0070,"s":"380nm_FRMS"},{"t":16.580,"v":1.0070,"s":"380nm_FRMS"},{"t":16.620,"v":1.0071,"s":"380nm_FRMS"},{"t":16.660,"v":1.0071,"s":"380nm_FRMS"},{"t":16.700,"v":1.0072,"s":"380nm_FRMS"},{"t":16.740,"v":1.0072,"s":"380nm_FRMS"},{"t":16.780,"v":1.0073,"s":"380nm_FRMS"},{"t":16.820,"v":1.0073,"s":"380nm_FRMS"},{"t":16.860,"v":1.0073,"s":"380nm_FRMS"},{"t":16.900,"v":1.0074,"s":"380nm_FRMS"},{"t":16.940,"v":1.0078,"s":"380nm_FRMS"},{"t":16.980,"v":1.0075,"s":"380nm_FRMS"},{"t":17.020,"v":1.0076,"s":"380nm_FRMS"},{"t":17.060,"v":1.0074,"s":"380nm_FRMS"},{"t":17.100,"v":1.0075,"s":"380nm_FRMS"},{"t":17.140,"v":1.0073,"s":"380nm_FRMS"},{"t":17.180,"v":1.0074,"s":"380nm_FRMS"},{"t":17.220,"v":1.0075,"s":"380nm_FRMS"},{"t":17.240,"v":1.0074,"s":"380nm_FRMS"}
  ]
},
"hconcat": [
  {
    "width": 433, "height": 347,
    "data": {"name": "a"},
    "encoding": {
      "x": {"field": "t", "type": "quantitative", "scale": {"domain": [13, 18], "nice": false, "zero": false}, "axis": {"values": [13, 14, 15, 16, 17, 18], "labelExpr": "(datum.value - 12) + ' PM'", "title": "Time"}},
      "y": {"field": "v", "type": "quantitative", "scale": {"domain": [0.98, 1.02], "nice": false, "zero": false}, "axis": {"values": [0.98, 0.985, 0.99, 0.995, 1.0, 1.005, 1.01, 1.015, 1.02], "format": ".3f", "title": "Output (normalized)"}}
    },
    "layer": [
      {"transform": [{"filter": "datum.s === '360nm_SSBUV'"}], "mark": {"type": "line", "strokeWidth": 1, "opacity": 0.75, "clip": true},
       "encoding": {"color": {"field": "s", "type": "nominal", "scale": {"domain": ["360nm_SSBUV", "360nm_FRMS"], "range": ["#0a0ac8", "#c00000"]},
         "legend": {"orient": "none", "legendX": 234, "legendY": -59, "title": null, "labelFont": "Liberation Sans", "labelFontSize": 19, "labelColor": {"expr": "datum.value === '360nm_SSBUV' ? '#2a2ae0' : '#cc1010'"}, "symbolType": "M-1,0H1M-0.12,-0.12H0.12V0.12H-0.12Z", "symbolSize": 1850, "symbolStrokeWidth": 2.5, "symbolOpacity": 1, "strokeColor": "#000", "fillColor": "white", "padding": 9, "rowPadding": 0, "labelOffset": 4, "clipHeight": 19}}}},
      {"transform": [{"filter": "datum.s === '360nm_SSBUV'"}], "mark": {"type": "point", "shape": "square", "filled": true, "size": 24, "opacity": 1, "clip": true},
       "encoding": {"color": {"field": "s", "type": "nominal", "scale": {"domain": ["360nm_SSBUV", "360nm_FRMS"], "range": ["#0a0ac8", "#c00000"]}, "legend": null}}},
      {"transform": [{"filter": "datum.s === '360nm_FRMS'"}], "mark": {"type": "line", "strokeWidth": 3, "opacity": 1, "clip": true},
       "encoding": {"color": {"field": "s", "type": "nominal", "scale": {"domain": ["360nm_SSBUV", "360nm_FRMS"], "range": ["#0a0ac8", "#c00000"]}, "legend": null}}},
      {"transform": [{"filter": "datum.s === '360nm_FRMS'"}], "mark": {"type": "point", "shape": "square", "filled": true, "size": 30, "opacity": 1, "clip": true},
       "encoding": {"color": {"field": "s", "type": "nominal", "scale": {"domain": ["360nm_SSBUV", "360nm_FRMS"], "range": ["#0a0ac8", "#c00000"]}, "legend": null}}},
      {"data": {"name": "la"}, "mark": {"type": "text", "font": "Liberation Sans", "fontSize": 26, "color": "#111", "align": "center", "baseline": "middle"}, "encoding": {"text": {"field": "lab"}}}
    ]
  },
  {
    "width": 433, "height": 347,
    "data": {"name": "b"},
    "encoding": {
      "x": {"field": "t", "type": "quantitative", "scale": {"domain": [13, 18], "nice": false, "zero": false}, "axis": {"values": [13, 14, 15, 16, 17, 18], "labelExpr": "(datum.value - 12) + ' PM'", "title": "Time"}},
      "y": {"field": "v", "type": "quantitative", "scale": {"domain": [0.98, 1.02], "nice": false, "zero": false}, "axis": {"values": [0.98, 0.985, 0.99, 0.995, 1.0, 1.005, 1.01, 1.015, 1.02], "format": ".3f", "title": "Output (normalized)"}}
    },
    "layer": [
      {"transform": [{"filter": "datum.s === '380nm_SSBUV'"}], "mark": {"type": "line", "strokeWidth": 1, "opacity": 0.6, "clip": true},
       "encoding": {"color": {"field": "s", "type": "nominal", "scale": {"domain": ["380nm_SSBUV", "380nm_FRMS"], "range": ["#f06418", "#22ee22"]},
         "legend": {"orient": "none", "legendX": 234, "legendY": -59, "title": null, "labelFont": "Liberation Sans", "labelFontSize": 19, "labelColor": {"expr": "datum.value === '380nm_SSBUV' ? '#f07030' : '#30f030'"}, "symbolType": "M-1,0H1M-0.12,-0.12H0.12V0.12H-0.12Z", "symbolSize": 1850, "symbolStrokeWidth": 2.5, "symbolOpacity": 1, "strokeColor": "#000", "fillColor": "white", "padding": 9, "rowPadding": 0, "labelOffset": 4, "clipHeight": 19}}}},
      {"transform": [{"filter": "datum.s === '380nm_SSBUV'"}], "mark": {"type": "point", "shape": "square", "filled": true, "size": 26, "opacity": 1, "clip": true},
       "encoding": {"color": {"field": "s", "type": "nominal", "scale": {"domain": ["380nm_SSBUV", "380nm_FRMS"], "range": ["#f06418", "#22ee22"]}, "legend": null}}},
      {"transform": [{"filter": "datum.s === '380nm_FRMS'"}], "mark": {"type": "line", "strokeWidth": 3, "opacity": 1, "clip": true},
       "encoding": {"color": {"field": "s", "type": "nominal", "scale": {"domain": ["380nm_SSBUV", "380nm_FRMS"], "range": ["#f06418", "#22ee22"]}, "legend": null}}},
      {"transform": [{"filter": "datum.s === '380nm_FRMS'"}], "mark": {"type": "point", "shape": "square", "filled": true, "size": 30, "opacity": 1, "clip": true},
       "encoding": {"color": {"field": "s", "type": "nominal", "scale": {"domain": ["380nm_SSBUV", "380nm_FRMS"], "range": ["#f06418", "#22ee22"]}, "legend": null}}},
      {"data": {"name": "lb"}, "mark": {"type": "text", "font": "Liberation Sans", "fontSize": 26, "color": "#111", "align": "center", "baseline": "middle"}, "encoding": {"text": {"field": "lab"}}}
    ]
  }
],
"resolve": {"scale": {"color": "independent", "x": "independent", "y": "independent"}, "legend": {"color": "independent"}}
}
